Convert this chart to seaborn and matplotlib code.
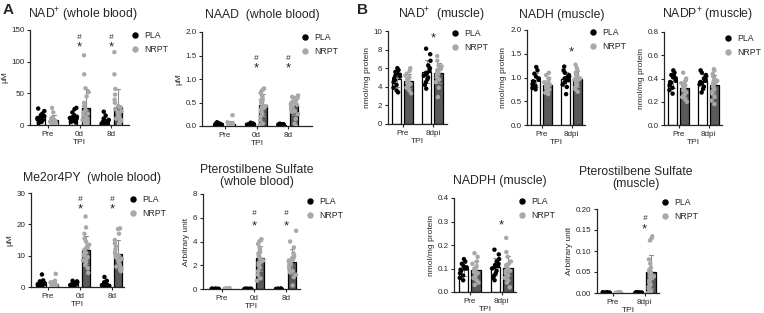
import numpy as np
import pandas as pd
import matplotlib
matplotlib.use('Agg')
import matplotlib.pyplot as plt
from matplotlib.lines import Line2D
import seaborn as sns

# categories
tpi_blood = ['Pre', '0d', '8d']
tpi_muscle = ['Pre', '8dpi']

# A - whole blood, one list of points per timepoint
nad_blood_pla = [[5, 8, 10, 12, 14, 22, 26, 3, 9, 15, 11, 7, 18, 6],
                 [6, 10, 13, 25, 27, 4, 9, 11, 15, 8, 12, 5, 20, 7],
                 [21, 15, 10, 3, 2, 5, 8, 4, 1, 6, 3, 7, 2]]
nad_blood_nrpt = [[2, 4, 5, 8, 27, 20, 3, 6, 1, 10, 4, 2, 12, 3],
                  [110, 80, 58, 52, 45, 35, 30, 24, 20, 15, 12, 8, 5, 3, 10, 18, 6, 2, 9, 4],
                  [115, 80, 57, 48, 40, 35, 30, 25, 22, 18, 15, 12, 10, 8, 5, 3, 20, 28, 6, 2]]

naad_blood_pla = [[0.02, 0.04, 0.08, 0.06, 0.01, 0.03, 0.05, 0.00, 0.02, 0.03, 0.01, 0.04],
                  [0.07, 0.05, 0.03, 0.02, 0.01, 0.04, 0.03, 0.00, 0.02, 0.05, 0.01, 0.03],
                  [0.04, 0.03, 0.02, 0.01, 0.03, 0.00, 0.02, 0.04, 0.01, 0.02, 0.03, 0.05]]
naad_blood_nrpt = [[0.23, 0.05, 0.02, 0.01, 0.08, 0.03, 0.00, 0.04, 0.02, 0.06, 0.01, 0.03],
                   [0.80, 0.78, 0.75, 0.70, 0.65, 0.60, 0.55, 0.50, 0.45, 0.42, 0.38, 0.35,
                    0.30, 0.25, 0.20, 0.12, 0.05, 0.02, 0.55, 0.40],
                   [0.65, 0.62, 0.60, 0.58, 0.55, 0.52, 0.50, 0.48, 0.45, 0.42, 0.40, 0.38,
                    0.35, 0.32, 0.30, 0.25, 0.15, 0.05, 0.00, 0.52, 0.60, 0.45]]

me2_blood_pla = [[4.0, 2.1, 1.8, 1.5, 1.2, 1.0, 0.8, 0.6, 0.5, 0.4, 0.9, 1.1, 0.7, 0.3],
                 [2.0, 1.8, 1.5, 1.3, 1.1, 0.9, 0.8, 0.6, 0.5, 0.4, 1.0, 0.7],
                 [3.2, 2.0, 1.5, 1.2, 1.0, 0.8, 0.6, 0.4, 0.3, 0.5, 0.7, 0.2]]
me2_blood_nrpt = [[4.2, 2.0, 1.5, 1.2, 0.9, 0.7, 0.5, 0.4, 0.3, 0.8, 1.0, 0.6, 0.2, 0.5],
                  [22.5, 19.0, 17.0, 15.5, 14.5, 13.5, 13.0, 12.0, 11.5, 11.0, 10.5, 10.0,
                   9.0, 8.5, 8.0, 7.0, 6.0, 4.5, 12.5, 9.5],
                  [18.7, 18.5, 17.0, 15.0, 14.0, 13.0, 12.0, 11.0, 10.5, 10.0, 9.5, 9.0,
                   8.5, 8.0, 7.0, 6.5, 6.0, 5.0, 5.5, 8.8]]

ptero_blood_pla = [[0.0, 0.01, 0.0, 0.02, 0.0, 0.01, 0.0, 0.0, 0.01, 0.0, 0.02, 0.0],
                   [0.01, 0.0, 0.0, 0.02, 0.0, 0.01, 0.0, 0.01, 0.0, 0.0, 0.02, 0.0],
                   [0.0, 0.0, 0.01, 0.02, 0.0, 0.01, 0.0, 0.0, 0.01, 0.0, 0.01, 0.0]]
ptero_blood_nrpt = [[0.02, 0.03, 0.01, 0.04, 0.02, 0.0, 0.03, 0.01, 0.02, 0.05, 0.01, 0.02],
                    [4.2, 4.1, 4.0, 3.8, 3.5, 3.3, 3.0, 2.8, 2.6, 2.4, 2.3, 2.2, 2.0, 1.8,
                     1.5, 1.2, 0.9, 0.7, 3.1, 2.1],
                    [4.9, 4.0, 3.5, 3.0, 2.8, 2.6, 2.5, 2.4, 2.3, 2.2, 2.0, 1.9, 1.7, 1.5,
                     1.4, 1.2, 1.0, 0.3, 2.7, 2.1]]

# B - muscle
nad_muscle_pla = [[6.0, 5.8, 5.6, 5.5, 5.3, 5.1, 4.9, 4.7, 4.5, 4.2, 3.9, 3.6, 3.4, 5.2],
                  [8.1, 7.5, 6.8, 6.3, 6.0, 5.7, 5.5, 5.2, 5.0, 4.8, 4.5, 4.2, 3.8, 5.4]]
nad_muscle_nrpt = [[6.0, 5.7, 5.2, 5.0, 4.8, 4.6, 4.5, 4.3, 4.1, 3.9, 3.6, 3.3, 4.4, 5.4],
                   [7.3, 6.8, 6.3, 6.2, 6.0, 5.8, 5.6, 5.5, 5.3, 5.0, 4.8, 4.5, 3.9, 2.9, 6.1, 5.9]]

nadh_muscle_pla = [[1.22, 1.15, 1.08, 1.02, 0.98, 0.95, 0.92, 0.90, 0.86, 0.82, 0.78, 0.75],
                   [1.23, 1.15, 1.10, 1.05, 1.02, 1.00, 0.97, 0.94, 0.90, 0.85, 0.80, 0.65, 0.98]]
nadh_muscle_nrpt = [[1.10, 1.05, 0.98, 0.93, 0.90, 0.87, 0.84, 0.81, 0.78, 0.75, 0.72, 0.68, 0.65, 0.85],
                    [1.27, 1.20, 1.15, 1.10, 1.05, 1.02, 0.98, 0.95, 0.92, 0.88, 0.84, 0.80,
                     0.75, 0.70, 0.96]]

nadp_muscle_pla = [[0.47, 0.45, 0.43, 0.41, 0.40, 0.38, 0.37, 0.36, 0.34, 0.32, 0.30, 0.27, 0.42],
                   [0.47, 0.45, 0.43, 0.42, 0.40, 0.39, 0.38, 0.36, 0.35, 0.33, 0.31, 0.28, 0.37]]
nadp_muscle_nrpt = [[0.45, 0.40, 0.38, 0.36, 0.34, 0.33, 0.31, 0.30, 0.28, 0.26, 0.24, 0.22, 0.20, 0.35],
                    [0.48, 0.47, 0.44, 0.42, 0.40, 0.38, 0.36, 0.35, 0.33, 0.31, 0.29, 0.27,
                     0.24, 0.21, 0.18, 0.37]]

nadph_muscle_pla = [[0.14, 0.13, 0.12, 0.11, 0.105, 0.10, 0.095, 0.09, 0.08, 0.07, 0.06, 0.05, 0.10],
                    [0.18, 0.16, 0.14, 0.13, 0.12, 0.11, 0.105, 0.10, 0.09, 0.08, 0.07, 0.06, 0.05, 0.115]]
nadph_muscle_nrpt = [[0.165, 0.15, 0.13, 0.12, 0.11, 0.10, 0.095, 0.09, 0.08, 0.07, 0.06, 0.05,
                      0.04, 0.03, 0.085],
                     [0.23, 0.17, 0.15, 0.13, 0.12, 0.115, 0.11, 0.10, 0.09, 0.08, 0.07, 0.06,
                      0.05, 0.04, 0.02, 0.09]]

ptero_muscle_pla = [[0.0, 0.001, 0.0, 0.002, 0.0, 0.001, 0.0, 0.0, 0.001, 0.0, 0.002, 0.0],
                    [0.001, 0.0, 0.0, 0.002, 0.0, 0.001, 0.0, 0.001, 0.0, 0.0, 0.002, 0.0]]
ptero_muscle_nrpt = [[0.0, 0.0, 0.001, 0.002, 0.0, 0.001, 0.0, 0.0, 0.001, 0.0, 0.001, 0.0],
                     [0.135, 0.130, 0.125, 0.080, 0.070, 0.060, 0.055, 0.050, 0.045, 0.040,
                      0.035, 0.030, 0.025, 0.020, 0.015, 0.010, 0.005, 0.0, 0.050, 0.040]]

sns.set_style('ticks')
plt.rcParams['font.family'] = ['Liberation Sans', 'DejaVu Sans']
plt.rcParams['mathtext.fontset'] = 'custom'
plt.rcParams['mathtext.rm'] = 'Liberation Sans'
plt.rcParams['axes.linewidth'] = 0.9

W, H = 764, 313
fig = plt.figure(figsize=(W / 100, H / 100), dpi=100)
groups = ['PLA', 'NRPT']


def long_table(cats, pla, nrpt):
    rows = []
    for c, vals in zip(cats, pla):
        rows += [(c, 'PLA', v) for v in vals]
    for c, vals in zip(cats, nrpt):
        rows += [(c, 'NRPT', v) for v in vals]
    return pd.DataFrame(rows, columns=['tpi', 'group', 'value'])


def yfmt(v, ticks):
    step = ticks[1] - ticks[0]
    if step >= 1:
        return f'{v:.0f}'
    if step >= 0.1:
        return f'{v:.1f}'
    return f'{v:.2f}'


def panel(box, cats, pla, nrpt, ylim, yticks, ylabel, xlim, marks, leg, gap=0.35):
    left, top, right, bottom = box
    ax = fig.add_axes([left / W, 1 - bottom / H, (right - left) / W, (bottom - top) / H])
    df = long_table(cats, pla, nrpt)
    sns.barplot(data=df, x='tpi', y='value', hue='group', order=cats, hue_order=groups,
                palette={'PLA': 'white', 'NRPT': '#5a5a5a'}, edgecolor='black', linewidth=0.9,
                errorbar='sd', capsize=0.25, err_kws={'color': '#8c8c8c', 'linewidth': 0.8},
                gap=gap, legend=False, ax=ax)
    np.random.seed(3)
    sns.stripplot(data=df, x='tpi', y='value', hue='group', order=cats, hue_order=groups,
                  palette={'PLA': 'black', 'NRPT': '#a8a8a8'}, dodge=True, jitter=0.25,
                  size=3.2, linewidth=0, legend=False, ax=ax, zorder=3)
    ax.set_xlim(*xlim)
    ax.set_ylim(*ylim)
    ax.set_yticks(yticks)
    ax.yaxis.set_major_formatter(matplotlib.ticker.FuncFormatter(lambda v, p: yfmt(v, yticks)))
    sns.despine(ax=ax)
    ax.tick_params(labelsize=5.8, length=2.5, width=0.8, pad=1.5)
    ax.set_xlabel('TPI', fontsize=6, labelpad=1)
    ax.set_ylabel(ylabel, fontsize=6, labelpad=2)
    for i, ys in marks:
        if len(ys) == 2:
            ax.text(i, ys[1], '#', ha='center', va='center', fontsize=6, style='italic')
        # the asterisk glyph sits high in its box, so push it down a little
        ax.annotate('*', (i, ys[0]), xytext=(0, -2.5), textcoords='offset points',
                    ha='center', va='center', fontsize=9.5)
    hx, hy = leg
    handles = [Line2D([], [], ls='', marker='o', markersize=3.6, color='black'),
               Line2D([], [], ls='', marker='o', markersize=3.6, color='#a8a8a8')]
    ax.legend(handles, groups, loc='upper left', bbox_to_anchor=((hx - 3.5) / W, 1 - (hy - 5) / H),
              bbox_transform=fig.transFigure, frameon=False, fontsize=6.3, handlelength=0.8,
              handletextpad=0.7, borderpad=0, borderaxespad=0, labelspacing=0.55)
    return ax


panel((30, 30, 129, 125), tpi_blood, nad_blood_pla, nad_blood_nrpt, (0, 150), [0, 50, 100, 150],
      'μM', (-0.55, 2.55), [(1, (128, 138)), (2, (128, 138))], (135, 36))
panel((202, 32, 312, 126), tpi_blood, naad_blood_pla, naad_blood_nrpt, (0, 2.0),
      [0, 0.5, 1.0, 1.5, 2.0], 'μM', (-0.73, 2.76), [(1, (1.30, 1.44)), (2, (1.30, 1.44))], (305, 38))
panel((31, 193, 124, 287), tpi_blood, me2_blood_pla, me2_blood_nrpt, (0, 30), [0, 10, 20, 30],
      'μM', (-0.53, 2.38), [(1, (25.9, 27.8)), (2, (25.9, 27.8))], (133, 200))
panel((203, 194, 300, 289), tpi_blood, ptero_blood_pla, ptero_blood_nrpt, (0, 8), [0, 2, 4, 6, 8],
      'Arbitrary unit', (-0.59, 2.44), [(1, (5.6, 6.35)), (2, (5.6, 6.35))], (310, 202))

panel((388, 31, 447, 124), tpi_muscle, nad_muscle_pla, nad_muscle_nrpt, (0, 10),
      [0, 2, 4, 6, 8, 10], 'nmol/mg protein', (-0.5, 1.47), [(1, (9.6,))], (455, 34), gap=0.25)
panel((527, 30, 585, 125), tpi_muscle, nadh_muscle_pla, nadh_muscle_nrpt, (0, 2.0),
      [0, 0.5, 1.0, 1.5, 2.0], 'nmol/mg protein', (-0.5, 1.45), [(1, (1.6,))], (593, 33), gap=0.25)
panel((664, 32, 722, 125), tpi_muscle, nadp_muscle_pla, nadp_muscle_nrpt, (0, 0.8),
      [0, 0.2, 0.4, 0.6, 0.8], 'nmol/mg protein', (-0.5, 1.45), [], (728, 39), gap=0.25)
panel((454, 198, 516, 292), tpi_muscle, nadph_muscle_pla, nadph_muscle_nrpt, (0, 0.4),
      [0, 0.1, 0.2, 0.3, 0.4], 'nmol/mg protein', (-0.5, 1.45), [(1, (0.3,))], (522, 202), gap=0.25)
panel((597, 209, 659, 293), tpi_muscle, ptero_muscle_pla, ptero_muscle_nrpt, (0, 0.20),
      [0, 0.05, 0.10, 0.15, 0.20], 'Arbitrary unit', (-0.5, 1.45), [(1, (0.16, 0.178))], (665, 203),
      gap=0.25)

titles = [(83, 15, 'NAD$^{+}$ (whole blood)'), (262, 15, 'NAAD  (whole blood)'),
          (92, 178, 'Me2or4PY  (whole blood)'), (257, 176, 'Pterostilbene Sulfate\n(whole blood)'),
          (441, 15, 'NAD$^{+}$  (muscle)'), (562, 15, 'NADH (muscle)'), (708, 15, 'NADP$^{+}$ (muscle)'),
          (500, 181, 'NADPH (muscle)'), (636, 178, 'Pterostilbene Sulfate\n(muscle)')]
for x, y, t in titles:
    fig.text(x / W, 1 - y / H, t, ha='center', va='center', fontsize=8.8, linespacing=1.0)

fig.text(3 / W, 1 - 10 / H, 'A', fontsize=11, fontweight='bold', va='center')
fig.text(357 / W, 1 - 10 / H, 'B', fontsize=11, fontweight='bold', va='center')

fig.savefig('out.png', dpi=100)
